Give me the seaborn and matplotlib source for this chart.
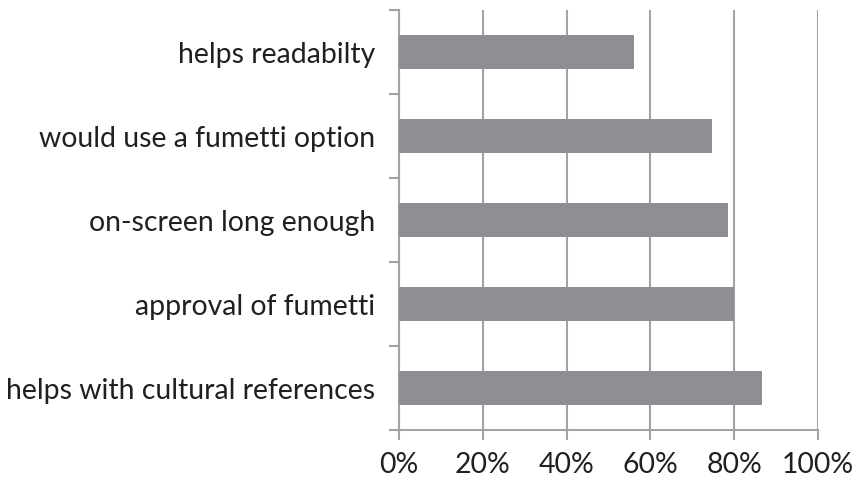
import matplotlib
matplotlib.use("Agg")
import matplotlib.pyplot as plt
from matplotlib.ticker import FixedLocator, PercentFormatter
import seaborn as sns
import pandas as pd

categories = [
    "helps readabilty",
    "would use a fumetti option",
    "on-screen long enough",
    "approval of fumetti",
    "helps with cultural references",
]
shares = [56.1, 74.7, 78.5, 80.0, 86.7]

sns.set_theme(style="white")
plt.rcParams["font.family"] = ["Lato", "DejaVu Sans"]

grid_color = "#a3a3a7"
bar_color = "#8e8f92"
text_color = "#231f20"

df = pd.DataFrame({"item": categories, "share": shares})

fig = plt.figure(figsize=(8.56, 4.84), dpi=100)
ax = fig.add_axes([399 / 856, 1 - 430 / 484, (818 - 399) / 856, (430 - 10) / 484])

sns.barplot(data=df, x="share", y="item", orient="h", color=bar_color,
            saturation=1, width=0.4, ax=ax, zorder=3)
for p in ax.patches:
    p.set_edgecolor("none")

ax.set_xlim(0, 100)
ax.set_ylim(len(categories) - 0.5, -0.5)
ax.set_xticks([0, 20, 40, 60, 80, 100])
ax.xaxis.set_major_formatter(PercentFormatter(decimals=0))
ax.set_xlabel("")
ax.set_ylabel("")

ax.grid(axis="x", color=grid_color, linewidth=1.5, zorder=0)
ax.grid(axis="y", visible=False)
ax.set_axisbelow(True)

for side in ["top", "right"]:
    ax.spines[side].set_visible(False)
for side in ["left", "bottom"]:
    ax.spines[side].set_color(grid_color)
    ax.spines[side].set_linewidth(1.5)

# category separators on the vertical axis
ax.yaxis.set_minor_locator(FixedLocator([i - 0.5 for i in range(len(categories) + 1)]))
ax.tick_params(axis="y", which="major", length=0, pad=17, labelsize=20.4, labelcolor=text_color)
ax.tick_params(axis="y", which="minor", length=7, width=1.5, color=grid_color, left=True)
ax.tick_params(axis="x", which="major", length=7, width=1.5, color=grid_color, bottom=True,
               pad=9, labelsize=20.4, labelcolor=text_color)

fig.savefig("out.png", dpi=100, facecolor="white")
